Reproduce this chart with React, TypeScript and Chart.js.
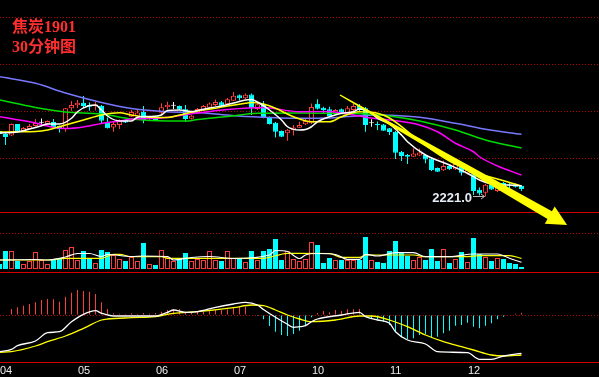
import React, { useEffect, useRef } from 'react';
import { Chart, registerables } from 'chart.js';

Chart.register(...registerables);

// ---------------- data ----------------
const TITLE_LINES = ['焦炭1901', '30分钟图'];
const DATE_LABELS = ['04', '05', '06', '07', '10', '11', '12'];
const DATE_INDEX = [0, 13, 26, 39, 52, 65, 78];

const OPEN = [2352, 2346, 2343, 2366, 2350.5, 2356, 2362, 2368.5, 2366, 2370,
  2362.5, 2356, 2397.5, 2403.5, 2408.5, 2404, 2402, 2402.5, 2370.5, 2359,
  2364, 2374, 2380.5, 2381, 2390.5, 2376, 2379.5, 2388.5, 2399.5, 2402.5,
  2402, 2395.5, 2376.5, 2387, 2394, 2398.5, 2404, 2409.5, 2405.5, 2412.5,
  2423.5, 2417.5, 2425, 2396, 2405, 2380, 2368.5, 2352, 2347.5, 2354,
  2358.5, 2365.5, 2367.5, 2406.5, 2398.5, 2395.5, 2386.5, 2395.5, 2388.5, 2394,
  2402, 2397.5, 2367.5, 2365, 2365, 2357.5, 2350.5, 2310.5, 2304, 2300.5,
  2303, 2304, 2297, 2278, 2273.5, 2282, 2275.5, 2280, 2267, 2265.5,
  2234.5, 2228.5, 2244, 2232, 2248, 2243.5, 2245.5, 2242.5];
const HIGH = [2354, 2348, 2367, 2366, 2360, 2366, 2376, 2377, 2373, 2376,
  2363, 2398, 2412, 2414, 2422, 2409, 2410, 2404, 2379, 2372,
  2375, 2375, 2394, 2395, 2402, 2380, 2380, 2407.5, 2410.5, 2410,
  2403, 2404, 2384, 2398, 2404, 2409, 2415, 2412, 2418, 2430,
  2425, 2427, 2427, 2408, 2412, 2381, 2370, 2353, 2356, 2364,
  2370.5, 2378, 2407, 2415.5, 2400.5, 2400.5, 2396, 2397, 2402, 2406,
  2406, 2400, 2375.5, 2371, 2366, 2358, 2352, 2312, 2306, 2317,
  2317, 2306, 2298, 2279, 2293, 2283, 2288, 2282, 2275, 2266,
  2239, 2246, 2246, 2244, 2250, 2249, 2247, 2244];
const LOW = [2344, 2324, 2342, 2350, 2350, 2355, 2361, 2364, 2365, 2358,
  2349, 2350.5, 2392.5, 2398, 2397.5, 2392.5, 2393, 2367, 2357, 2350.5,
  2356, 2368, 2380, 2380, 2367.5, 2372, 2372.5, 2384, 2395.5, 2396,
  2394, 2370.5, 2375, 2386, 2392, 2398, 2402, 2400, 2404, 2412,
  2413, 2416, 2384, 2394, 2377.5, 2365, 2339, 2340, 2332.5, 2343,
  2358, 2364, 2366, 2395, 2387.5, 2380, 2385, 2386, 2387, 2392,
  2392, 2350.5, 2360.5, 2354, 2352, 2344, 2296, 2292, 2286, 2300,
  2302, 2287.5, 2272, 2270, 2272, 2274, 2274, 2263, 2265, 2224,
  2223, 2221, 2234, 2230, 2240, 2238, 2239, 2232];
const CLOSE = [2346, 2340, 2366, 2350.5, 2358, 2362, 2368, 2368.5, 2372, 2359,
  2356, 2397.5, 2404, 2408.5, 2402, 2400.5, 2405, 2372.5, 2357.5, 2366,
  2374, 2369, 2390, 2389, 2374, 2377, 2374, 2399.5, 2404.5, 2402.5,
  2395.5, 2376, 2382.5, 2396, 2402, 2407, 2410, 2402.5, 2415.5, 2422.5,
  2417.5, 2424.5, 2397.5, 2405.5, 2380, 2366, 2350.5, 2340.5, 2354.5, 2359,
  2364, 2372, 2400, 2396.5, 2394, 2381.5, 2394, 2388.5, 2397.5, 2402,
  2394, 2364, 2367.5, 2364, 2352.5, 2350, 2308.5, 2302, 2300.5, 2307,
  2309, 2295, 2274, 2270.5, 2282, 2275.5, 2286, 2268.5, 2274, 2232,
  2227, 2244.5, 2235, 2241, 2242, 2243, 2240.5, 2236];

const VOLUME = [10000, 36000, 36000, 16000, 10000, 16000, 34000, 18000, 10000, 20000,
  20000, 38000, 44000, 18000, 36000, 20000, 12000, 38000, 34000, 28000,
  20000, 16000, 24000, 16000, 52000, 10000, 8000, 38000, 24000, 16000,
  20000, 32000, 16000, 20000, 18000, 36000, 18000, 16000, 36000, 22000,
  20000, 14000, 36000, 18000, 36000, 40000, 60000, 18000, 36000, 20000,
  16000, 20000, 54000, 48000, 12000, 22000, 18000, 18000, 18000, 18000,
  18000, 64000, 18000, 14000, 12000, 36000, 56000, 34000, 26000, 18000,
  24000, 18000, 40000, 16000, 40000, 12000, 20000, 34000, 14000, 62000,
  30000, 24000, 16000, 22000, 20000, 12000, 10000, 4000];

// moving averages (candle index, price)
const MA5_X = [0, 3, 5, 7, 8, 10, 12, 13, 15, 16, 17, 18, 20, 22, 23, 25, 27, 28, 30, 32, 33, 35, 37, 39, 41, 42, 43, 45, 47, 48, 50, 51, 52, 53, 55, 57, 59, 60, 62, 63, 65, 67, 68, 71, 75, 78, 80, 83, 85, 87];
const MA5_Y = [2348, 2350, 2356, 2362.5, 2366, 2366, 2377.5, 2390.5, 2403, 2404, 2394, 2382, 2372, 2372, 2379.5, 2381, 2384, 2393, 2394, 2391, 2393, 2398, 2402, 2408, 2414, 2415, 2410, 2394, 2374, 2360.5, 2354, 2355, 2360.5, 2370.5, 2380.5, 2387.5, 2390.5, 2396, 2387.5, 2377.5, 2366, 2344, 2330.5, 2304, 2284, 2267.5, 2254, 2244, 2244, 2242];
const MA10_X = [0, 3, 6, 8, 11, 14, 17, 20, 22, 25, 28, 30, 33, 36, 38, 41, 42, 44, 46, 49, 52, 55, 57, 60, 63, 65, 70, 75, 80, 83, 85, 87];
const MA10_Y = [2350, 2350.5, 2351, 2354, 2364, 2374, 2384, 2388.5, 2384, 2379.5, 2379, 2384, 2392, 2397.5, 2402, 2407.5, 2409, 2406, 2397.5, 2380.5, 2370.5, 2370.5, 2380.5, 2390.5, 2387.5, 2378, 2332, 2292, 2266, 2256, 2249, 2242];
const MA20_X = [0, 6, 8, 11, 14, 17, 20, 22, 27, 33, 38, 44, 50, 55, 57, 62, 65, 70, 73, 76, 79, 80, 83, 87];
const MA20_Y = [2380.5, 2368, 2362, 2357, 2360, 2367, 2372, 2376, 2378, 2388, 2395, 2399, 2390.5, 2391, 2388, 2378, 2374, 2364, 2350.5, 2327.5, 2310.5, 2300.5, 2282, 2264];
const MA40_X = [0, 6, 11, 17, 22, 28, 31, 33, 38, 43, 50, 57, 62, 65, 70, 76, 81, 87];
const MA40_Y = [2414, 2399, 2390, 2386, 2376, 2372, 2372, 2375, 2381, 2387.5, 2388, 2387, 2385.5, 2382, 2372, 2354, 2334, 2318];
const MA60_X = [0, 6, 11, 17, 22, 28, 33, 38, 43, 50, 55, 58, 63, 65, 70, 76, 81, 87];
const MA60_Y = [2460.5, 2447.5, 2428, 2409, 2397, 2390.5, 2389, 2384, 2380, 2377.5, 2378, 2381, 2384, 2383.5, 2379.5, 2367.5, 2355.5, 2345.5];

// volume averages
const VMA5_X = [0, 6, 8, 11, 13, 15, 17, 18, 22, 24, 28, 29, 32, 35, 39, 45, 46, 48, 50, 51, 53, 56, 58, 60, 61, 63, 66, 69, 71, 75, 79, 83, 85, 87];
const VMA5_Y = [18000, 19000, 18000, 24000, 31000, 31000, 25000, 29000, 25000, 26000, 25000, 18000, 23000, 25000, 21000, 28000, 37000, 35000, 21000, 28000, 31000, 29000, 19400, 19400, 29400, 26000, 32600, 32600, 24600, 24600, 30000, 30000, 21400, 13400];
const VMA10_X = [0, 8, 11, 17, 19, 20, 22, 27, 28, 33, 44, 48, 50, 55, 57, 60, 61, 69, 71, 78, 80, 85, 87];
const VMA10_Y = [18000, 18000, 21400, 21400, 29400, 29400, 24600, 24600, 21400, 21400, 21400, 31400, 31400, 31000, 23400, 23400, 28000, 28000, 24600, 24600, 26600, 26600, 21400];

// MACD
const MACD_HIST = [0, 0, 6, 7.7, 9.3, 11, 12.7, 15, 16, 15.7,
  13.3, 18.3, 22.3, 25, 24, 23.3, 21, 12.7, 6, 1.7,
  1.3, 1, 1.7, 1, 2, 1.3, 2, 3.3, 5, 6,
  6, 3.3, 2.7, 3.3, 3.3, 4.3, 5, 5, 5.7, 7.3,
  8.3, 8.3, 0, -1, -4.3, -11, -16.7, -20, -21, -19,
  -15.7, -10, -2.3, 2, 4, 2.7, 5, 4, 5.7, 5.7,
  6, -1.7, -3.3, -4.3, -6.7, -10, -16.7, -22.3, -24, -23.3,
  -20, -19, -22.3, -21.7, -18.3, -15.7, -10.7, -10, -7.7, -11.7,
  -13.3, -10.7, -8.3, -4.3, -1.7, 0, 1.3, 2.3];
const DIF_X = [0, 2, 3, 6, 8, 10, 12, 14, 16, 17, 19, 22, 26, 28, 29, 31, 33, 36, 39, 41, 43, 44, 46, 48, 49, 50, 51, 52, 53, 57, 60, 61, 63, 65, 66, 68, 71, 73, 78, 80, 82, 84, 87];
const DIF_Y = [-36.7, -34.3, -30.7, -26, -17.7, -16.7, -6.7, 0.7, 4.3, 1.7, -1, -1, -1, 2.7, 5, 2.7, 3.3, 7.7, 11, 12.7, 10, 5.5, -2.3, -9.3, -12.3, -11.7, -10.7, -6.7, -4, 0, 2.7, -1.7, -5, -8.3, -16.7, -25, -29, -36.7, -37.7, -44.3, -44.3, -41, -38.3];
const DEA_X = [0, 2, 6, 8, 11, 14, 17, 18, 22, 26, 29, 33, 39, 42, 44, 46, 48, 50, 52, 56, 60, 62, 65, 68, 71, 74, 77, 79, 82, 84, 87];
const DEA_Y = [-37.3, -36.7, -31, -26.7, -21, -13.3, -5, -4, -2.7, -1.7, 1.7, 3.3, 7.3, 10, 9.3, 5, 0, -4, -6.7, -5, -1, -1, -5, -11.7, -20, -26.7, -31.7, -35, -40, -41, -40];

// axis ranges / grid values
const X_MIN = 1 / 12;
const X_MAX = 599.5 / 6;
const PRICE_MIN = 2190;
const PRICE_MAX = 2614;
const PRICE_GRID = [2296, 2390, 2484, 2578];
const VOL_MIN = -6000;
const VOL_MAX = 114000;
const VOL_GRID = [70000];
const MACD_MIN = -47;
const MACD_MAX = 43;
const MACD_GRID = [0];

// hand-drawn trend arrow (candle index, price)
const TREND_FROM = [56.75, 2424];
const TREND_TO = [94.6, 2164];

// ---------------- styles ----------------
const UP = '#ff3c3c';
const DOWN = '#00ffff';
const DOJI = '#ffffff';
const GRID_DOT = '#b40000';
const FRAME = '#d20000';

const IDX = OPEN.map((_, i) => i);
const candleColor = (i: number) => (CLOSE[i] > OPEN[i] ? UP : CLOSE[i] < OPEN[i] ? DOWN : DOJI);
const isUp = (i: number) => CLOSE[i] >= OPEN[i];

const pts = (xs: number[], ys: number[]) => xs.map((x, k) => ({ x, y: ys[k] }));

const lineDs = (label: string, xs: number[], ys: number[], color: string, axis: string, width = 1.5) => ({
  type: 'line',
  label,
  data: pts(xs, ys),
  borderColor: color,
  backgroundColor: color,
  borderWidth: width,
  pointRadius: 0,
  pointHoverRadius: 0,
  fill: false,
  cubicInterpolationMode: 'monotone',
  yAxisID: axis,
  xAxisID: 'x',
  order: 2,
});

const barBase = {
  type: 'bar',
  xAxisID: 'x',
  grouped: false,
  inflateAmount: 0,
  borderSkipped: false,
};

const yPanel = (min: number, max: number, grid: number[], weight: number, stackWeight: number) => ({
  type: 'linear',
  position: 'right',
  stack: 'panels',
  stackWeight,
  weight,
  min,
  max,
  afterBuildTicks: (axis: any) => {
    axis.ticks = grid.map((v) => ({ value: v }));
  },
  ticks: { display: false },
  grid: { color: GRID_DOT, lineWidth: 1, drawTicks: false },
  border: { display: false, dash: [1, 2] },
});

function drawArrow(ctx: CanvasRenderingContext2D, x0: number, y0: number, x1: number, y1: number) {
  const dx = x1 - x0;
  const dy = y1 - y0;
  const len = Math.hypot(dx, dy);
  const ux = dx / len;
  const uy = dy / len;
  const nx = -uy;
  const ny = ux;
  const headLen = 20;
  const headHalf = 10;
  const shaftStart = 0.7;
  const shaftEnd = 4.4;
  const bx = x1 - ux * headLen;
  const by = y1 - uy * headLen;
  ctx.beginPath();
  ctx.moveTo(x0 + nx * shaftStart, y0 + ny * shaftStart);
  ctx.lineTo(bx + nx * shaftEnd, by + ny * shaftEnd);
  ctx.lineTo(bx + nx * headHalf, by + ny * headHalf);
  ctx.lineTo(x1, y1);
  ctx.lineTo(bx - nx * headHalf, by - ny * headHalf);
  ctx.lineTo(bx - nx * shaftEnd, by - ny * shaftEnd);
  ctx.lineTo(x0 - nx * shaftStart, y0 - ny * shaftStart);
  ctx.closePath();
  ctx.fill();
}

const plugins = [
  {
    id: 'bg',
    beforeDraw(chart: any) {
      const { ctx, width, height } = chart;
      ctx.save();
      ctx.fillStyle = '#000000';
      ctx.fillRect(0, 0, width, height);
      ctx.restore();
    },
  },
  {
    id: 'frame',
    beforeDatasetsDraw(chart: any) {
      const { ctx, width } = chart;
      ctx.save();
      ctx.fillStyle = FRAME;
      ['yMain', 'yVol', 'yMacd'].forEach((id) => {
        const s = chart.scales[id];
        ctx.fillRect(0, Math.round(s.bottom), width, 1);
      });
      ctx.restore();
    },
  },
  {
    id: 'overlay',
    afterDatasetsDraw(chart: any) {
      const { ctx } = chart;
      const xs = chart.scales.x;
      const ys = chart.scales.yMain;
      ctx.save();
      // lowest-low marker
      let lo = 0;
      LOW.forEach((v, i) => { if (v < LOW[lo]) lo = i; });
      const px = xs.getPixelForValue(lo);
      const py = ys.getPixelForValue(LOW[lo]);
      ctx.strokeStyle = '#b8b8b8';
      ctx.lineWidth = 1;
      ctx.beginPath();
      ctx.moveTo(px - 12.5, Math.round(py) + 0.5);
      ctx.lineTo(px - 1, Math.round(py) + 0.5);
      ctx.moveTo(px - 4.5, Math.round(py) - 2);
      ctx.lineTo(px - 1, Math.round(py) + 0.5);
      ctx.lineTo(px - 4.5, Math.round(py) + 3);
      ctx.stroke();
      ctx.font = 'bold 13px "Liberation Sans", Arial, sans-serif';
      ctx.fillStyle = '#e6ecf5';
      ctx.textAlign = 'right';
      ctx.textBaseline = 'middle';
      ctx.fillText(LOW[lo].toFixed(1), px - 13.5, py + 1.5);
      // trend arrow
      ctx.fillStyle = '#ffff00';
      drawArrow(
        ctx,
        xs.getPixelForValue(TREND_FROM[0]), ys.getPixelForValue(TREND_FROM[1]),
        xs.getPixelForValue(TREND_TO[0]), ys.getPixelForValue(TREND_TO[1]),
      );
      ctx.restore();
    },
  },
  {
    id: 'texts',
    afterDraw(chart: any) {
      const { ctx } = chart;
      const xs = chart.scales.x;
      ctx.save();
      ctx.fillStyle = '#ff2e2e';
      ctx.font = 'bold 16px "Liberation Serif", "Noto Sans CJK SC", serif';
      ctx.textAlign = 'left';
      ctx.textBaseline = 'alphabetic';
      ctx.fillText(TITLE_LINES[0], 12, 32);
      ctx.fillText(TITLE_LINES[1], 12, 52);
      ctx.fillStyle = '#ececec';
      ctx.font = '11px "Liberation Sans", Arial, sans-serif';
      DATE_INDEX.forEach((idx, k) => {
        const x = Math.max(0, xs.getPixelForValue(idx) + 0.5);
        ctx.fillText(DATE_LABELS[k], x, 374);
      });
      ctx.restore();
    },
  },
];

function buildConfig(): any {
  const datasets: any[] = [
    // candles: wicks then bodies
    {
      ...barBase,
      label: 'wick',
      yAxisID: 'yMain',
      data: IDX.map((i) => ({ x: i, y: [LOW[i], HIGH[i]] })),
      backgroundColor: IDX.map(candleColor),
      borderWidth: 0,
      barThickness: 1,
      order: 20,
    },
    {
      ...barBase,
      label: 'body',
      yAxisID: 'yMain',
      data: IDX.map((i) => ({ x: i, y: [OPEN[i], CLOSE[i]] })),
      backgroundColor: IDX.map((i) => (CLOSE[i] > OPEN[i] ? '#000000' : candleColor(i))),
      borderColor: IDX.map(candleColor),
      borderWidth: 1,
      barThickness: 5,
      minBarLength: 1,
      order: 19,
    },
    lineDs('MA5', MA5_X, MA5_Y, '#ffffff', 'yMain'),
    lineDs('MA10', MA10_X, MA10_Y, '#ffff00', 'yMain'),
    lineDs('MA20', MA20_X, MA20_Y, '#ff00ff', 'yMain'),
    lineDs('MA40', MA40_X, MA40_Y, '#00dc00', 'yMain'),
    lineDs('MA60', MA60_X, MA60_Y, '#7878ff', 'yMain'),
    // volume
    {
      ...barBase,
      label: 'volume',
      yAxisID: 'yVol',
      data: IDX.map((i) => ({ x: i, y: VOLUME[i] })),
      backgroundColor: IDX.map((i) => (isUp(i) ? '#000000' : DOWN)),
      borderColor: IDX.map((i) => (isUp(i) ? UP : DOWN)),
      borderWidth: 1,
      barThickness: 5,
      order: 19,
    },
    lineDs('VMA5', VMA5_X, VMA5_Y, '#ffffff', 'yVol', 1.2),
    lineDs('VMA10', VMA10_X, VMA10_Y, '#ffff00', 'yVol', 1.2),
    // MACD
    {
      ...barBase,
      label: 'macd',
      yAxisID: 'yMacd',
      data: IDX.map((i) => ({ x: i, y: MACD_HIST[i] })),
      backgroundColor: IDX.map((i) => (MACD_HIST[i] >= 0 ? UP : DOWN)),
      borderWidth: 0,
      barThickness: 1,
      order: 19,
    },
    lineDs('DIF', DIF_X, DIF_Y, '#ffffff', 'yMacd', 1.3),
    lineDs('DEA', DEA_X, DEA_Y, '#ffff00', 'yMacd', 1.3),
  ];

  return {
    type: 'bar',
    data: { datasets },
    plugins,
    options: {
      animation: false,
      responsive: false,
      devicePixelRatio: 1,
      events: [],
      layout: { padding: { left: 0, right: 0, top: 0, bottom: 15 } },
      plugins: {
        legend: { display: false },
        tooltip: { enabled: false },
        title: { display: false },
      },
      scales: {
        x: {
          type: 'linear',
          min: X_MIN,
          max: X_MAX,
          offset: false,
          display: false,
        },
        yMain: yPanel(PRICE_MIN, PRICE_MAX, PRICE_GRID, 0, 212),
        yVol: yPanel(VOL_MIN, VOL_MAX, VOL_GRID, 1, 60),
        yMacd: yPanel(MACD_MIN, MACD_MAX, MACD_GRID, 2, 90),
      },
    },
  };
}

export default function App() {
  const canvasRef = useRef<HTMLCanvasElement>(null);
  useEffect(() => {
    document.body.style.margin = '0';
    document.body.style.background = '#000';
    const chart = new Chart(canvasRef.current as HTMLCanvasElement, buildConfig());
    return () => chart.destroy();
  }, []);
  return (
    <div style={{ position: 'absolute', left: 0, top: 0, width: 599, height: 377, background: '#000' }}>
      <canvas ref={canvasRef} width={599} height={377} style={{ display: 'block', width: 599, height: 377 }} />
    </div>
  );
}
